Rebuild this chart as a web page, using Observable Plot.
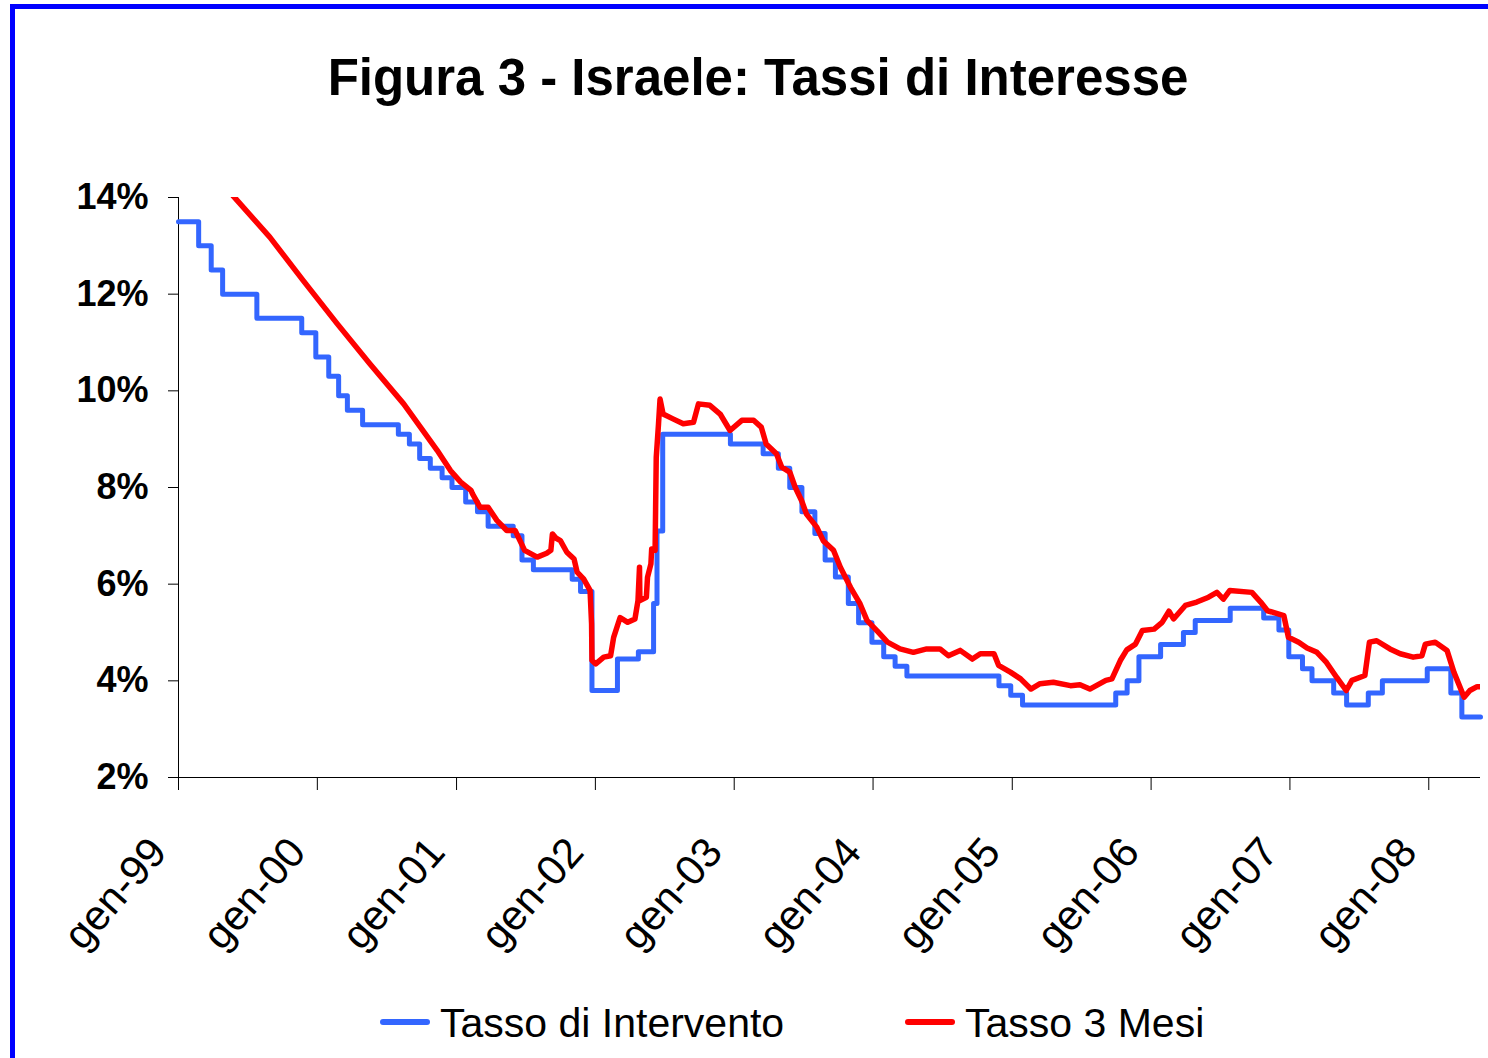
<!DOCTYPE html>
<html><head><meta charset="utf-8">
<script src="https://cdn.jsdelivr.net/npm/d3@7"></script>
<script src="https://cdn.jsdelivr.net/npm/@observablehq/plot@0.6"></script>
<style>
body{margin:0;background:#fff;}
#page{position:relative;width:1488px;height:1058px;overflow:hidden;font-family:"Liberation Sans",Arial,sans-serif;background:#fff;}
#border{position:absolute;left:10px;top:4px;width:1700px;height:1300px;border-left:5px solid #0000ff;border-top:5px solid #0000ff;}
#title{position:absolute;left:14px;top:52px;width:1488px;text-align:center;font-size:51px;font-weight:bold;line-height:51px;color:#000;}
#chart{position:absolute;left:0;top:150px;}
#chart g[aria-label="y-axis tick label"] text{font-weight:bold;}
.leg{position:absolute;font-size:41px;line-height:41px;color:#000;white-space:nowrap;}
.sw{position:absolute;height:6px;border-radius:3px;}
</style>
</head><body>
<div id="page">
<div id="border"></div>
<div id="title">Figura 3 - Israele: Tassi di Interesse</div>
<div id="chart"></div>
<div class="sw" style="left:380px;top:1019px;width:50px;background:#3366ff"></div>
<div class="leg" style="left:440px;top:1003px">Tasso di Intervento</div>
<div class="sw" style="left:905px;top:1019px;width:50px;background:#ff0000"></div>
<div class="leg" style="left:965px;top:1003px">Tasso 3 Mesi</div>
</div>
<script>
// Tasso di Intervento (policy rate, step changes)
const policyDates = ["1999-01-01","1999-02-23","1999-03-28","1999-04-27","1999-07-26","1999-11-21","1999-12-28",
"2000-01-31","2000-02-26","2000-03-20","2000-04-29","2000-08-01","2000-08-30","2000-09-26","2000-10-24","2000-11-24","2000-12-20",
"2001-01-25","2001-02-25","2001-03-25","2001-05-30","2001-06-22","2001-07-22","2001-11-01","2001-11-23","2001-12-23",
"2002-02-28","2002-04-24","2002-06-03","2002-06-12","2002-06-27","2002-12-22",
"2003-03-18","2003-04-27","2003-05-27","2003-06-28","2003-08-01","2003-08-28","2003-09-24","2003-10-28","2003-11-24","2003-12-29",
"2004-01-29","2004-02-28","2004-03-30","2004-11-27","2004-12-28",
"2005-01-28","2005-09-30","2005-10-30","2005-11-30",
"2006-01-26","2006-03-27","2006-04-27","2006-07-28","2006-10-24","2006-12-03","2006-12-29",
"2007-02-03","2007-02-28","2007-04-26","2007-05-30","2007-07-26","2007-09-01","2007-12-28",
"2008-02-28","2008-03-28","2008-05-16"];
const policyRates = [13.5,13.0,12.5,12.0,11.5,11.2,10.7,
10.3,9.9,9.6,9.3,9.1,8.9,8.6,8.4,8.2,8.0,
7.7,7.5,7.2,7.0,6.5,6.3,6.1,5.85,3.8,
4.45,4.6,5.6,7.1,9.1,8.9,
8.7,8.4,8.0,7.5,7.05,6.5,6.15,5.6,5.2,4.8,
4.5,4.3,4.1,3.9,3.7,
3.5,3.75,4.0,4.5,
4.75,5.0,5.25,5.5,5.3,5.05,4.5,
4.25,4.0,3.75,3.5,3.75,4.0,4.25,
3.75,3.25,3.25];

// Tasso 3 Mesi (3-month rate)
const mm3Dates = ["1999-05-24","1999-08-29","1999-11-25","2000-02-22","2000-05-18","2000-08-15","2000-11-11","2000-12-16",
"2001-01-12","2001-02-08","2001-02-12","2001-03-04","2001-03-25","2001-04-17","2001-05-13","2001-06-04","2001-06-29","2001-08-01","2001-08-26","2001-09-06","2001-09-10","2001-09-20","2001-10-01","2001-10-18","2001-11-06","2001-11-14","2001-12-01","2001-12-18","2001-12-22","2001-12-23",
"2002-01-02","2002-01-23","2002-02-10","2002-02-18","2002-03-07","2002-03-27","2002-04-15","2002-04-23","2002-04-27","2002-04-28","2002-05-15","2002-05-18","2002-05-27","2002-05-29","2002-06-07","2002-06-10","2002-06-16","2002-06-20","2002-06-28","2002-07-24","2002-08-20","2002-09-16","2002-09-29","2002-10-29","2002-11-25","2002-12-21",
"2003-01-21","2003-02-21","2003-03-13","2003-03-26","2003-04-22","2003-05-06","2003-05-27","2003-06-10","2003-06-27","2003-07-10","2003-08-06","2003-08-23","2003-09-19","2003-10-07","2003-11-03","2003-11-28","2003-12-16",
"2004-01-11","2004-02-08","2004-03-12","2004-04-16","2004-05-21","2004-06-25","2004-07-17","2004-08-17","2004-09-18","2004-10-09","2004-11-14","2004-11-26","2004-12-27",
"2005-01-23","2005-02-19","2005-03-15","2005-04-19","2005-06-03","2005-06-28","2005-07-24","2005-09-04","2005-09-20","2005-10-12","2005-10-29","2005-11-21","2005-12-09",
"2006-01-09","2006-01-30","2006-02-17","2006-03-01","2006-04-01","2006-05-01","2006-06-01","2006-06-23","2006-07-10","2006-07-27","2006-09-23","2006-10-16","2006-11-03","2006-12-16","2006-12-28",
"2007-01-24","2007-02-15","2007-03-13","2007-04-07","2007-05-04","2007-05-29","2007-06-13","2007-07-17","2007-07-29","2007-08-17","2007-09-21","2007-10-18","2007-11-21","2007-12-14","2007-12-23",
"2008-01-18","2008-02-18","2008-03-07","2008-04-03","2008-04-18","2008-05-07","2008-05-16"];
const mm3Rates = [14.04,13.18,12.28,11.39,10.56,9.73,8.77,8.35,
8.11,7.94,7.87,7.59,7.59,7.32,7.11,7.11,6.70,6.56,6.64,6.70,7.04,6.95,6.90,6.66,6.52,6.25,6.11,5.87,5.18,4.42,
4.35,4.49,4.52,4.90,5.31,5.21,5.28,5.66,6.35,5.66,5.73,6.14,6.42,6.73,6.70,8.62,9.32,9.83,9.52,9.42,9.32,9.35,9.73,9.70,9.52,9.18,
9.39,9.39,9.25,8.90,8.70,8.42,8.32,8.01,7.73,7.45,7.18,6.90,6.70,6.35,5.93,5.59,5.25,
5.04,4.80,4.66,4.59,4.66,4.66,4.52,4.63,4.45,4.56,4.56,4.32,4.18,
4.04,3.83,3.94,3.97,3.90,3.92,3.83,4.01,4.04,4.42,4.64,4.76,5.04,
5.07,5.21,5.44,5.28,5.56,5.63,5.73,5.83,5.69,5.87,5.83,5.63,5.45,5.35,4.90,
4.80,4.68,4.59,4.38,4.07,3.80,4.01,4.11,4.80,4.83,4.66,4.56,4.49,4.52,4.76,
4.80,4.63,4.18,3.66,3.80,3.88,3.88];

const yTicks = [2,4,6,8,10,12,14];
const xTickDates = ["1999-01-01","2000-01-01","2001-01-01","2002-01-01","2003-01-01","2004-01-01","2005-01-01","2006-01-01","2007-01-01","2008-01-01"];
const xTickLabels = ["gen-99","gen-00","gen-01","gen-02","gen-03","gen-04","gen-05","gen-06","gen-07","gen-08"];
const xDomain = ["1999-01-01","2008-05-16"];

const policy = policyDates.map((d,i)=>({date:new Date(d), value:policyRates[i]}));
const mm3 = mm3Dates.map((d,i)=>({date:new Date(d), value:mm3Rates[i]}));
const tickTimes = xTickDates.map(d=>+new Date(d));
const xTicks = xTickDates.map(d=>new Date(d));

const chart = Plot.plot({
  width:1488, height:830,
  marginLeft:178, marginRight:8, marginTop:47, marginBottom:203,
  style:{fontFamily:'"Liberation Sans", Arial, sans-serif', background:"transparent", overflow:"visible", color:"#000"},
  x:{type:"utc", domain:xDomain.map(d=>new Date(d))},
  y:{domain:[2,14]},
  marks:[
    Plot.axisY({ticks:yTicks, tickFormat:d=>d+"%", tickSize:10, tickPadding:20, fontSize:36, fontWeight:"bold", label:null}),
    Plot.axisX({ticks:xTicks, tickFormat:()=>"", tickSize:13, label:null}),
    Plot.axisX({ticks:xTicks, tickFormat:d=>xTickLabels[tickTimes.indexOf(+d)], tickSize:0, tickPadding:67, tickRotate:-49, fontSize:42, dx:-20, label:null}),
    Plot.ruleX([new Date(xDomain[0])], {stroke:"#000"}),
    Plot.ruleY([2], {stroke:"#000"}),
    Plot.line(policy, {x:"date", y:"value", curve:"step-after", stroke:"#3366ff", strokeWidth:5}),
    Plot.line(mm3, {x:"date", y:"value", stroke:"#ff0000", strokeWidth:5.5, clip:true})
  ]
});
document.getElementById("chart").appendChild(chart);
</script>
</body></html>
